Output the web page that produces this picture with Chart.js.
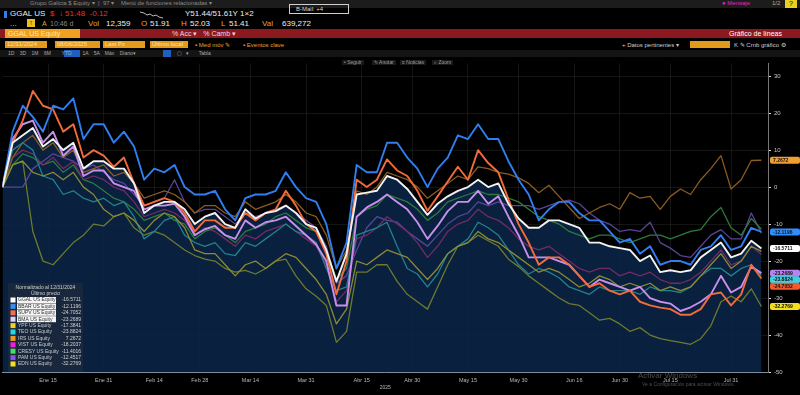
<!DOCTYPE html>
<html>
<head>
<meta charset="utf-8">
<script src="https://cdn.jsdelivr.net/npm/chart.js@4.4.0/dist/chart.umd.min.js"></script>
<style>
  html, body { margin: 0; padding: 0; background: #000; width: 800px; height: 395px; overflow: hidden; }
  body { position: relative; font-family: "Liberation Sans", Arial, sans-serif; }
  .t { position: absolute; white-space: nowrap; line-height: 1; }
  .bar { position: absolute; left: 0; width: 800px; }
  .obox { position: absolute; background: #e39a1c; color: #ffe3a8; font-size: 6px; line-height: 7px; padding-left: 2px; box-sizing: border-box; height: 7px; }
  #wrap { position: absolute; left: 0; top: 57px; width: 800px; height: 338px; }
</style>
</head>
<body>
<!-- cabecera tipo terminal -->
<div class="bar" style="top:0;height:8px;background:#1c1c1c"></div>
<span class="t" style="left:30px;top:0;font-size:6px;color:#8a8a8a">Grupo Galicia $ Equity ▾ &nbsp;| &nbsp;97 ▾ &nbsp; &nbsp;Menú de funciones relacionadas ▾</span>
<span class="t" style="left:722px;top:0;font-size:6px;color:#e024c8">● Mensaje</span>
<span class="t" style="left:772px;top:0;font-size:6px;color:#aaa">1/2</span>
<span class="t" style="left:785px;top:0;width:12px;height:8px;background:#e8d020;color:#000;font-size:7px;text-align:center">?</span>

<div class="t" style="left:4px;top:11px;width:3px;height:7px;background:#2f7ff0"></div>
<span class="t" style="left:10px;top:10px;font-size:8px;color:#eee">GGAL US</span>
<span class="t" style="left:50px;top:10px;font-size:8px;color:#e03434">$ &nbsp;↓ 51.48 &nbsp;-0.12</span>
<svg class="t" style="left:140px;top:10px" width="24" height="9"><polyline points="0,2 4,3 7,5 10,4 13,6 16,5 19,7 23,8" fill="none" stroke="#bbb" stroke-width="1"/></svg>
<span class="t" style="left:185px;top:10px;font-size:8px;color:#eee">Y51.44/51.61Y 1×2</span>
<div class="t" style="left:289px;top:4px;width:60px;height:10px;border:1px solid #cfcfcf;box-sizing:border-box"></div>
<span class="t" style="left:296px;top:6px;font-size:6px;color:#ddd">B-Mail: +4</span>

<span class="t" style="left:10px;top:20px;font-size:8px;color:#ddd">...</span>
<span class="t" style="left:27px;top:19px;width:8px;height:8px;background:#e8c020;color:#000;font-size:7px;text-align:center">↑</span>
<span class="t" style="left:42px;top:20px;font-size:7px;color:#e8a030">A</span>
<span class="t" style="left:50px;top:20px;font-size:7px;color:#888">10:46 d</span>
<span class="t" style="left:88px;top:20px;font-size:8px;color:#e8a030">Vol</span>
<span class="t" style="left:106px;top:20px;font-size:8px;color:#eee">12,359</span>
<span class="t" style="left:141px;top:20px;font-size:8px;color:#e8a030">O</span>
<span class="t" style="left:150px;top:20px;font-size:8px;color:#eee">51.91</span>
<span class="t" style="left:181px;top:20px;font-size:8px;color:#e8a030">H</span>
<span class="t" style="left:190px;top:20px;font-size:8px;color:#eee">52.03</span>
<span class="t" style="left:221px;top:20px;font-size:8px;color:#e8a030">L</span>
<span class="t" style="left:229px;top:20px;font-size:8px;color:#eee">51.41</span>
<span class="t" style="left:262px;top:20px;font-size:8px;color:#e8a030">Val</span>
<span class="t" style="left:282px;top:20px;font-size:8px;color:#eee">639,272</span>

<div class="bar" style="top:29px;height:9px;background:#8c1820"></div>
<div class="t" style="left:5px;top:29px;width:75px;height:9px;background:#f0a020"></div>
<span class="t" style="left:8px;top:30px;font-size:7px;color:#ffe4b0">GGAL US Equity</span>
<span class="t" style="left:172px;top:30px;font-size:7px;color:#f2d6d6">% Acc ▾ &nbsp; % Camb ▾</span>
<span class="t" style="left:729px;top:30px;font-size:7px;color:#fff">Gráfico de líneas</span>

<div class="obox" style="left:5px;top:41px;width:42px">12/31/2024</div>
<div class="obox" style="left:55px;top:41px;width:45px">08/06/2025</div>
<div class="obox" style="left:103px;top:41px;width:42px">Last Px</div>
<div class="obox" style="left:150px;top:41px;width:38px">Último local</div>
<span class="t" style="left:195px;top:42px;font-size:6px;color:#e8a030">▪ Med móv ✎</span>
<span class="t" style="left:243px;top:42px;font-size:6px;color:#e8a030">▪ Eventos clave</span>
<span class="t" style="left:622px;top:42px;font-size:6px;color:#ccc">+ Datos pertinentes ▾</span>
<div class="obox" style="left:690px;top:41px;width:40px"></div>
<span class="t" style="left:734px;top:42px;font-size:6px;color:#ccc">K ✎ Crnb gráfico ⚙</span>

<div class="bar" style="top:50px;height:7px;background:#141414"></div>
<span class="t" style="left:64px;top:50px;width:16px;height:7px;background:#1f5fbf"></span>
<span class="t" style="left:8px;top:51px;font-size:5px;color:#aaa;word-spacing:4px">1D 3D 1M 6M &nbsp;YTD &nbsp;1A 5A Máx Diario▾</span>
<span class="t" style="left:163px;top:50px;width:8px;height:7px;background:#1f5fbf"></span>
<span class="t" style="left:177px;top:51px;font-size:5px;color:#aaa">▢ &nbsp; ▾ &nbsp; &nbsp; &nbsp; Tabla</span>

<div id="wrap"><canvas id="c"></canvas></div>

<span class="t" style="left:342px;top:60px;font-size:5px;color:#999;background:#1a1a1a;padding:0 2px">• Seguir</span>
<span class="t" style="left:372px;top:60px;font-size:5px;color:#999;background:#1a1a1a;padding:0 2px">✎ Anotar</span>
<span class="t" style="left:400px;top:60px;font-size:5px;color:#999;background:#1a1a1a;padding:0 2px">≡ Noticias</span>
<span class="t" style="left:432px;top:60px;font-size:5px;color:#999;background:#1a1a1a;padding:0 2px">⌕ Zoom</span>

<span class="t" style="left:638px;top:372px;font-size:8px;color:rgba(210,210,210,0.35)">Activar Windows</span>
<span class="t" style="left:642px;top:382px;font-size:5px;color:rgba(210,210,210,0.35)">Ve a Configuración para activar Windows.</span>

<script>
'use strict';

// eje x en días hábiles desde 12/31/2024 (0), un punto cada 2 ruedas
const days = [0, 2, 4, 6, 8, 10, 12, 14, 16, 18,
  20, 22, 24, 26, 28, 30, 32, 34, 36, 38,
  40, 42, 44, 46, 48, 50, 52, 54, 56, 58,
  60, 62, 64, 66, 68, 70, 72, 74, 76, 78,
  80, 82, 84, 86, 88, 90, 92, 94, 96, 98,
  100, 102, 104, 106, 108, 110, 112, 114, 116, 118,
  120, 122, 124, 126, 128, 130, 132, 134, 136, 138,
  140, 142, 144, 146, 148, 150];

const xTickIdx    = [9, 20, 30, 39, 49, 60, 71, 81, 92, 102, 113, 122, 132, 144];
const xTickLabels = ['Ene 15', 'Ene 31', 'Feb 14', 'Feb 28', 'Mar 14', 'Mar 31', 'Abr 15',
                     'Abr 30', 'May 15', 'May 30', 'Jun 16', 'Jun 30', 'Jul 15', 'Jul 31'];
const yTicks      = [30, 20, 10, 0, -10, -20, -30, -40, -50];

// variación % normalizada al 12/31/2024
const GGAL = [0, 12, 14, 16, 11, 13, 10, 12, 5, 7,
  7, 5, 5, 1, -7, -5, -4, -4, -6, -10,
  -8, -7, -10, -11, -6, -8.5, -7, -6.5, -5, -7,
  -10, -11, -17, -25.5, -18, -2, -1.5, -1, 3, 2,
  -0.5, -4, -7.5, -4.5, -2.5, -1, 0, 2, 0, 1,
  -4.5, -8.5, -11, -11, -9, -9, -10, -11, -15, -15,
  -16, -16.5, -17, -20, -18.5, -23, -22.5, -23, -22.5, -19,
  -17, -15, -19, -18, -14.5, -16.5711];
const BBAR = [0, 15, 22, 19, 15, 22, 21, 24, 13, 17,
  17, 12, 15, 11, 2, 5, 4, 6, 0, -2,
  -2, -1, -6, -9, -3, -2, -2, -1, 4, 0,
  -3, -4, -10, -22, -15, 6, 4, 4, 12, 12,
  8, 5, 0, 5, 8, 14, 13, 17, 13, 13,
  7, 2, -2, -9, -6, -4, -4, -7, -9, -9,
  -12, -15, -14, -18, -16, -21, -20, -20, -21, -17,
  -16, -13, -17, -16, -11, -12.1196];
const SUPV = [0, 12, 18, 26, 22, 21, 15, 17, 8, 10,
  8.5, 5.5, 8, 1, -5, -4, -3, -4, -7, -12,
  -9, -9, -11, -11, -7, -9, -7, -6, -1, -5,
  -10, -12, -18, -29, -20, 2, 0, 2, 7.5, 4.5,
  3, -1, -6.4, -2.5, 1.5, 5.5, 2, 10, 6.5, 4,
  -3.3, -10, -15, -21, -19, -19, -21, -24, -27, -26,
  -28, -29, -28, -31, -32, -32.6, -33, -34.5, -34.5, -33,
  -29, -28.5, -32, -29, -21, -24.7052];
const BMA = [0, 13, 17, 18, 12, 15, 8.5, 11, 3, 4.5,
  4.5, 1, 0, -1, -6, -5, -5, -4.5, -8, -13,
  -11.4, -10.5, -13, -14, -9, -11, -9.5, -9, -8, -10.5,
  -13, -15.5, -20, -32, -32, -8, -5.5, -4, -2, -4,
  -6, -9.5, -14, -10.5, -6.5, -4, -4, -1, -4.5, -2.5,
  -8, -13, -19, -19, -19, -20, -21, -24, -27, -25,
  -26, -27, -28, -27, -30, -31, -31.5, -33.5, -32.5, -31,
  -29, -24, -28.5, -27, -21.5, -23.2689];
const YPF = [0, 6, 7, 4, 3, 4, 2, 4, 0, -2,
  -6, -8, -7, -9, -12, -9, -7, -8, -11, -17,
  -18, -18, -21, -24, -21, -20, -22, -20, -18, -19,
  -22, -25, -29, -37, -33, -20, -21, -19, -17, -18,
  -19, -22, -25, -22, -18, -16, -15, -12, -14, -15,
  -17, -19, -21, -23, -22, -23, -25, -27, -26, -24,
  -25, -27, -26, -27, -26, -28, -27, -28, -27, -24,
  -21, -18, -22, -20, -16, -17.3841];
const TEO = [0, 10, 12, 10, 3, 2, -2, -1, -3, -4,
  -3, -5, -4, -8, -14, -12, -9, -8, -13, -15,
  -16, -15, -18, -18.5, -15, -16, -14, -12, -10, -12,
  -13, -15, -22, -28, -27, -13, -12, -11, -9.5, -16,
  -22, -23.5, -27, -23.5, -18, -16, -14, -9.5, -11, -13,
  -17, -21, -23.5, -22, -23, -24.5, -27, -28, -29, -27,
  -28, -28, -28, -29, -27, -28, -28, -28.5, -27, -24,
  -22, -22, -24, -22, -21, -23.8824];
const IRS = [0, 8, 12, 14, 10, 12, 8, 10, 4, 5,
  6, 3, 4, 1, -3, -2, -1, -2, -4, -7,
  -5, -5, -7, -8, -4, -6, -5, -4, -2, -4,
  -7, -8, -13, -22, -17, -1, -2, 0, 4, 3,
  2, 0, -3, -1, 1, 3, 2, 5.5, 5, 4,
  3.5, 2.5, 1, -1.5, 0.5, -2.5, -5.5, -8.5, -7, -5.5,
  -4.5, -6, -1.5, -3, -2.5, -6, -2.5, -0.5, -2, 2,
  5, 8.5, -0.5, 2, 7.2, 7.2672];
const VIST = [0, 8, 10, 9, 6, 8, 5, 7, 2, 3,
  2, 0, -1, -4, -8, -7, -6, -7, -9, -13,
  -11, -12, -14, -16, -13, -14, -12, -11, -10, -12,
  -14, -16, -21, -31, -28, -14, -13, -11, -8, -10,
  -12, -15, -19, -16, -12, -10, -9, -6, -8, -9,
  -11, -14, -16, -17, -16, -18, -20, -22, -23, -22,
  -22, -24, -23, -24, -23, -25, -26, -26, -25, -23,
  -20, -17, -21, -20, -16, -18.2037];
const CRESY = [0, 6, 9, 8, 6, 7, 4, 6, 2, 1,
  -1, -3, -4, -6, -9, -8, -7, -9, -10, -14,
  -12, -11, -13, -15, -12, -11, -10, -8, -7, -9,
  -11, -12, -17, -25, -22, -8, -6, -5, -2, -3,
  -4, -6, -9, -7, -4, -3, -2, -1, -2, -2,
  -3, -4, -6, -8, -9, -10, -12, -13, -14, -13,
  -13, -14, -15, -14, -13, -13, -14, -13, -12, -11.5,
  -8, -5.5, -11, -13, -8.5, -11.4016];
const PAM = [0, 0, 0, 5, 7, 9, 8, 7, 5, 6,
  4, 2, 1, -2, -5, -4, -3, 2, -4, -7,
  -6, -6, -8, -10, -7, -8, -7, -6, -5, -7,
  -9, -11, -16, -26, -24, -17, -11, -8, -9, -9.5,
  -12, -14, -16, -13, -10, -8, -7, -4, -5, -4,
  -5, -5, -5, -6, -5, -4, -3.5, -4.5, -7, -9,
  -10, -12, -11.5, -12, -9.5, -15, -16.5, -18.5, -19, -16,
  -13, -11.5, -14, -14, -7, -12.4517];
const EDN = [0, 6, 7, -12, -20, -21, -18, -15, -13, -10,
  -10.5, -8, -7, -11, -13, -12, -13, -15, -17, -18.5,
  -19.5, -20, -22, -23, -22.5, -23.5, -22, -20, -19.5, -24,
  -27.5, -29.5, -32, -42, -39, -23, -23, -21, -21, -25.5,
  -29, -31, -33, -27, -21, -16, -15, -13, -14.5, -16,
  -19.5, -21.5, -24, -26, -28, -30, -31.5, -32, -34, -36,
  -35.5, -37, -39, -38, -40, -41, -41.5, -42, -42.5, -41,
  -37.5, -31, -29.5, -31, -27.5, -32.2769];

const names  = ['GGAL US Equity', 'BBAR US Equity', 'SUPV US Equity', 'BMA US Equity', 'YPF US Equity',
                'TEO US Equity', 'IRS US Equity', 'VIST US Equity', 'CRESY US Equity', 'PAM US Equity', 'EDN US Equity'];
const values = [GGAL, BBAR, SUPV, BMA, YPF, TEO, IRS, VIST, CRESY, PAM, EDN];

// estilos
const legendColors = ['#ffffff', '#3a8ef0', '#f07050', '#e0d0f4', '#f0d020', '#20d8f0', '#f09a20', '#f020e0', '#40e060', '#9050e0', '#f0e020'];
const lineColors   = ['#f2f2f2', '#2f7ff0', '#f26b3a', '#c890ec', '#8c8a32', '#24808c', '#8a5c22', '#742a64', '#2e7a3c', '#5a4496', '#6e7a2e'];
const tagColors    = { 0: '#ffffff', 1: '#2f8fff', 2: '#f05a30', 3: '#b884f0', 5: '#3fd0e0', 6: '#f0a030', 10: '#f0e020' };

const FONT = '"Liberation Sans", Arial, sans-serif';

const legendBox = {
  id: 'legendBox',
  afterDatasetsDraw(chart) {
    const { ctx, chartArea: ca } = chart;
    const w = 75, h = 89, rowH = 6.4;
    const x0 = ca.left + 5.5, y0 = ca.bottom - h;
    ctx.save();
    ctx.fillStyle = 'rgba(26,40,60,0.96)';
    ctx.fillRect(x0, y0, w, h);
    ctx.font = `5px ${FONT}`;
    ctx.textBaseline = 'middle';
    ctx.fillStyle = '#cfcfcf';
    ctx.textAlign = 'center';
    ctx.fillText('Normalizado al 12/31/2024', x0 + w / 2, y0 + 4.5);
    ctx.fillText('Último precio', x0 + w / 2, y0 + 10.5);
    names.forEach((n, i) => {
      const y = y0 + 17 + i * rowH;
      ctx.fillStyle = legendColors[i];
      ctx.fillRect(x0 + 2.5, y - 2.5, 5, 5);
      if (i < 4) {
        ctx.fillStyle = '#f4f4f4';
        ctx.fillRect(x0 + 9, y - 3, 39, 6);
        ctx.fillStyle = '#333';
      } else {
        ctx.fillStyle = '#c8c8c8';
      }
      ctx.textAlign = 'left';
      ctx.fillText(n, x0 + 10, y);
      ctx.textAlign = 'right';
      ctx.fillStyle = '#d0d0d0';
      ctx.fillText(values[i][values[i].length - 1].toFixed(4), x0 + w - 2, y);
    });
    ctx.restore();
  },
};

// etiquetas de último valor sobre el eje derecho
const lastTags = {
  id: 'lastTags',
  afterDraw(chart) {
    const { ctx, chartArea: ca, scales } = chart;
    const tags = Object.keys(tagColors).map(k => {
      const arr = values[k];
      const v = arr[arr.length - 1];
      return { color: tagColors[k], v, y: scales.y.getPixelForValue(v) };
    }).sort((a, b) => a.y - b.y);
    for (let i = 1; i < tags.length; i++) {
      if (tags[i].y - tags[i - 1].y < 6.5) tags[i].y = tags[i - 1].y + 6.5;
    }
    ctx.save();
    ctx.font = `bold 5px ${FONT}`;
    ctx.textBaseline = 'middle';
    ctx.textAlign = 'left';
    tags.forEach(t => {
      ctx.fillStyle = t.color;
      ctx.beginPath();
      ctx.roundRect(ca.right + 2, t.y - 3.5, 30, 7, 2);
      ctx.fill();
      ctx.fillStyle = '#111';
      ctx.fillText(t.v.toFixed(4), ca.right + 5, t.y + 0.3);
    });
    ctx.restore();
  },
};

const datasets = values.map((arr, i) => ({
  label: names[i],
  data: arr.map((v, j) => ({ x: days[j], y: v })),
  borderColor: lineColors[i],
  borderWidth: i < 4 ? 1.9 : 1.3,
  pointRadius: 0,
  tension: 0,
  borderJoinStyle: 'round',
  fill: i === 0 ? 'start' : false,
  backgroundColor: i === 0 ? 'rgba(10,36,70,0.9)' : 'transparent',
}));

new Chart(document.getElementById('c'), {
  type: 'line',
  data: { datasets },
  options: {
    responsive: true,
    maintainAspectRatio: false,
    animation: false,
    layout: { padding: { left: 2.5, top: 1, right: 0, bottom: 0 } },
    plugins: {
      legend: { display: false },
      tooltip: { enabled: false },
      filler: { drawTime: 'beforeDatasetsDraw' },
    },
    scales: {
      x: {
        type: 'linear',
        min: 0,
        max: 151.3,
        afterBuildTicks: s => { s.ticks = xTickIdx.map(v => ({ value: v })); },
        afterFit: s => { s.height = 23; },
        ticks: {
          color: '#b8b8b8',
          font: { size: 5.5, family: FONT },
          padding: 5,
          maxRotation: 0,
          autoSkip: false,
          callback: (v, i) => xTickLabels[i],
        },
        grid: { color: 'rgba(255,255,255,0.08)', drawTicks: false },
        border: { color: '#7d8ea3' },
        title: { display: true, text: '2025', color: '#b8b8b8', font: { size: 5, family: FONT }, padding: { top: 0, bottom: 4 } },
      },
      y: {
        position: 'right',
        min: -50,
        max: 33.4,
        afterBuildTicks: s => { s.ticks = yTicks.map(v => ({ value: v })); },
        afterFit: s => { s.width = 32; },
        ticks: { color: '#c8c8c8', font: { size: 6, family: FONT }, padding: 3 },
        grid: { color: 'rgba(255,255,255,0.08)', tickColor: '#dddddd', tickLength: 3 },
        border: { color: '#777' },
      },
    },
  },
  plugins: [legendBox, lastTags],
});
</script>
</body>
</html>
